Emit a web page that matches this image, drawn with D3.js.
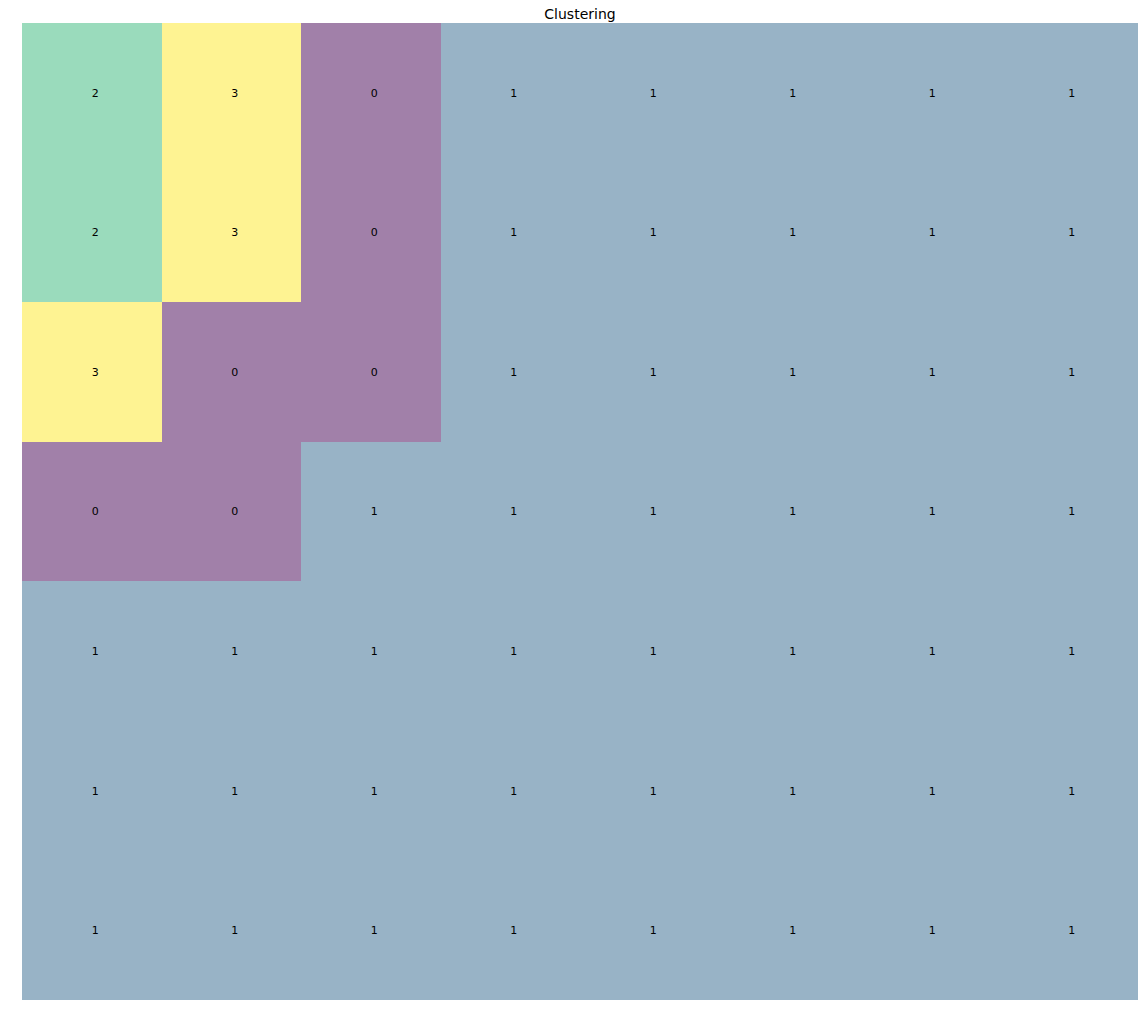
<!DOCTYPE html>
<html>
<head>
<meta charset="utf-8">
<script src="https://cdn.jsdelivr.net/npm/d3@7"></script>
<style>
  html, body { margin: 0; padding: 0; background: #fff; }
  svg { display: block; font-family: "DejaVu Sans", sans-serif; }
</style>
</head>
<body>
<svg id="chart" width="1148" height="1027"></svg>
<script>
// Data
const title = "Clustering";
const rows = [0, 1, 2, 3, 4, 5, 6];
const cols = [0, 1, 2, 3, 4, 5, 6, 7];
const row0 = [2, 3, 0, 1, 1, 1, 1, 1];
const row1 = [2, 3, 0, 1, 1, 1, 1, 1];
const row2 = [3, 0, 0, 1, 1, 1, 1, 1];
const row3 = [0, 0, 1, 1, 1, 1, 1, 1];
const row4 = [1, 1, 1, 1, 1, 1, 1, 1];
const row5 = [1, 1, 1, 1, 1, 1, 1, 1];
const row6 = [1, 1, 1, 1, 1, 1, 1, 1];
const grid = [row0, row1, row2, row3, row4, row5, row6];
const clusterIds = [0, 1, 2, 3];

const margin = { left: 22, top: 23, right: 10, bottom: 27 };
const W = 1148, H = 1027;
const svg = d3.select("#chart");

const x = d3.scaleLinear().domain([0, cols.length]).range([margin.left, W - margin.right]);
const y = d3.scaleLinear().domain([0, rows.length]).range([margin.top, H - margin.bottom]);
const color = d3.scaleSequential(d3.interpolateViridis)
  .domain([d3.min(clusterIds), d3.max(clusterIds)]);

const cells = [];
grid.forEach((r, i) => r.forEach((v, j) => cells.push({ i, j, v })));

svg.append("g").selectAll("rect")
  .data(cells).join("rect")
  .attr("x", d => x(d.j))
  .attr("y", d => y(d.i))
  .attr("width", d => x(d.j + 1) - x(d.j))
  .attr("height", d => y(d.i + 1) - y(d.i))
  .attr("fill", d => color(d.v))
  .attr("fill-opacity", 0.5)
  .attr("shape-rendering", "crispEdges");

svg.append("g").selectAll("text")
  .data(cells).join("text")
  .attr("x", d => x(d.j + 0.5))
  .attr("y", d => y(d.i + 0.5))
  .attr("dy", "0.36em")
  .attr("text-anchor", "start")
  .attr("font-size", 11)
  .attr("fill", "#000")
  .text(d => d.v);

svg.append("text")
  .attr("x", (x(0) + x(cols.length)) / 2)
  .attr("y", 19)
  .attr("text-anchor", "middle")
  .attr("font-size", 14)
  .attr("fill", "#000")
  .text(title);
</script>
</body>
</html>
